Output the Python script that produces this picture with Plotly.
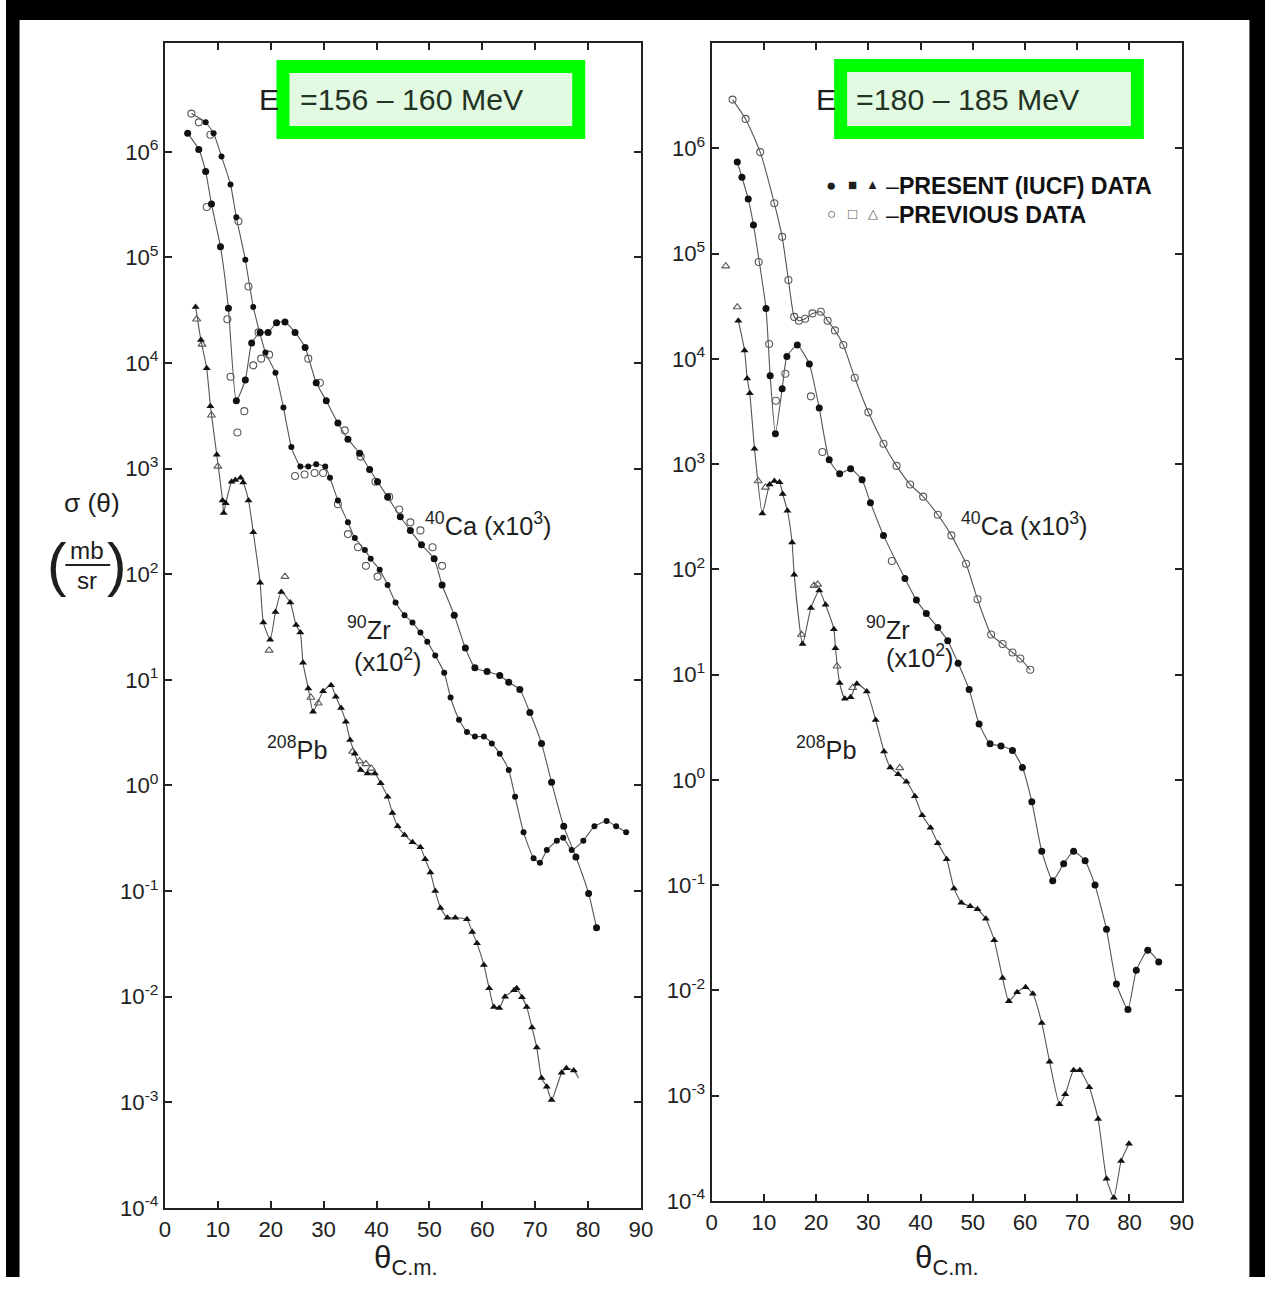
import plotly.graph_objects as go

W, H = 1277, 1290

# ---------------- LEFT PANEL: Ep = 156-160 MeV ----------------
# 40Ca (x10^3)
ca_l_x = [4.3, 6.4, 7.7, 8.8, 10.5, 12.0, 13.5, 15.2, 16.4, 18.0, 19.5, 21.1, 22.7, 24.6, 26.5,
          28.6, 30.5, 32.7, 34.6, 36.8, 38.7, 40.2, 42.1, 44.5, 46.4, 48.5, 50.9, 52.4, 54.7,
          56.8, 58.6, 60.9, 63.3, 65.0, 67.1, 69.0, 71.2, 73.1, 75.4, 77.7, 80.1, 81.6]
ca_l_y = [1.5e6, 1.05e6, 6.5e5, 3.2e5, 1.26e5, 3.3e4, 4.4e3, 6.9e3, 1.55e4, 1.95e4, 1.95e4, 2.4e4,
          2.45e4, 1.95e4, 1.4e4, 6.5e3, 4.4e3, 2.7e3, 1.9e3, 1.4e3, 9.8e2, 7.5e2, 5.4e2, 3.5e2,
          2.6e2, 1.9e2, 1.4e2, 79, 41, 20, 13, 12, 11, 9.5, 8.1, 4.9, 2.5, 1.07, 0.41, 0.21,
          0.095, 0.045]
ca_l_prev_x = [7.9, 11.8, 12.4, 13.7, 15.0, 16.7, 18.2, 19.7, 27.1, 29.3, 34.0, 37.0, 39.8,
               42.4, 44.3, 46.4, 48.3, 50.6, 52.4]
ca_l_prev_y = [3.0e5, 2.6e4, 7.4e3, 2.2e3, 3.5e3, 9.5e3, 1.1e4, 1.2e4, 1.1e4, 6.5e3, 2.3e3,
               1.3e3, 7.5e2, 5.4e2, 4.1e2, 3.1e2, 2.6e2, 1.8e2, 1.2e2]

# 90Zr (x10^2)
zr_l_x = [5.0, 7.7, 9.2, 10.7, 12.4, 13.5, 15.2, 16.7, 19.0, 20.9, 22.4, 23.9, 25.6, 27.1, 28.6,
          30.3, 31.2, 32.7, 34.6, 35.9, 37.8, 38.9, 40.6, 42.1, 43.6, 45.3, 46.8, 48.3, 49.6,
          51.1, 52.8, 54.0, 55.6, 57.1, 58.6, 60.3, 61.8, 63.3, 65.0, 66.2, 67.8, 69.7, 70.9,
          72.2, 74.1, 75.3, 76.9, 79.1, 81.2, 83.5, 85.3, 87.2]
zr_l_y = [2.3e6, 1.9e6, 1.5e6, 9.0e5, 4.9e5, 2.4e5, 9.5e4, 3.4e4, 1.26e4, 8.1e3, 3.8e3, 1.6e3,
          1.05e3, 1.05e3, 1.1e3, 1.05e3, 8.2e2, 5.0e2, 3.1e2, 2.2e2, 1.7e2, 1.4e2, 1.1e2, 79,
          54, 41, 35, 28, 23, 17, 11.7, 6.8, 4.2, 3.2, 2.9, 2.9, 2.5, 2.0, 1.4, 0.78, 0.36,
          0.205, 0.185, 0.245, 0.30, 0.32, 0.245, 0.30, 0.41, 0.46, 0.41, 0.36]
zr_l_prev_x = [5.0, 6.4, 8.6, 13.9, 15.8, 17.7, 24.6, 26.4, 28.3, 29.9, 32.7, 34.6, 36.5, 38.0, 40.2]
zr_l_prev_y = [2.3e6, 1.9e6, 1.45e6, 2.2e5, 5.3e4, 1.95e4, 8.5e2, 8.8e2, 9.1e2, 9.1e2, 4.6e2,
               2.4e2, 1.8e2, 1.2e2, 95]

# 208Pb
pb_l_x = [5.8, 6.8, 7.9, 8.6, 9.8, 10.9, 11.1, 11.5, 12.6, 13.3, 14.3, 14.8, 15.8, 16.7, 18.0,
          18.6, 19.9, 20.9, 22.0, 23.7, 24.8, 25.6, 26.1, 27.1, 28.0, 29.9, 31.4, 32.3, 33.3,
          34.2, 35.0, 35.9, 37.0, 38.3, 39.7, 40.8, 42.1, 43.0, 44.0, 45.3, 46.8, 48.3, 49.2,
          50.2, 51.1, 52.1, 53.4, 54.9, 57.1, 58.1, 59.0, 60.3, 61.3, 62.2, 63.2, 64.3, 66.0,
          66.5, 67.5, 68.4, 69.4, 70.3, 71.2, 72.2, 73.1, 75.0, 75.9, 77.3, 78.2]
pb_l_y = [3.4e4, 1.65e4, 8.9e3, 3.9e3, 1.35e3, 5.0e2, 3.8e2, 4.7e2, 7.5e2, 7.8e2, 8.2e2, 7.4e2,
          5.0e2, 2.5e2, 83, 35, 24, 44, 68, 54, 33, 28, 14.5, 8.3, 5.0, 7.8, 8.9, 6.9, 5.4, 4.0,
          2.7, 2.0, 1.4, 1.3, 1.3, 1.05, 0.78, 0.55, 0.41, 0.34, 0.29, 0.26, 0.20, 0.15, 0.10,
          0.069, 0.056, 0.056, 0.054, 0.041, 0.032, 0.020, 0.012, 0.0080, 0.0078, 0.0100,
          0.0115, 0.012, 0.0099, 0.0080, 0.0051, 0.0033, 0.0017, 0.0014, 0.00105, 0.0019,
          0.0021, 0.0020, 0.0017]
pb_l_prev_x = [6.0, 7.0, 8.8, 10.0, 19.7, 22.7, 27.6, 29.0, 35.5, 36.8, 38.0, 39.0]
pb_l_prev_y = [2.6e4, 1.5e4, 3.2e3, 1.05e3, 19, 95, 6.8, 6.0, 2.1, 1.7, 1.6, 1.45]

# ---------------- RIGHT PANEL: Ep = 180-185 MeV ----------------
ca_r_prev_x = [4.0, 6.5, 9.3, 12.0, 13.5, 14.7, 15.8, 16.7, 17.9, 19.3, 20.9, 22.2, 23.6, 25.2,
               27.4, 30.0, 32.9, 35.4, 38.0, 40.5, 43.3, 45.9, 48.7, 50.9, 53.5, 55.7, 57.6,
               59.1, 61.0]
ca_r_prev_y = [2.9e6, 1.9e6, 9.2e5, 3.0e5, 1.44e5, 5.6e4, 2.5e4, 2.3e4, 2.4e4, 2.7e4, 2.8e4,
               2.3e4, 1.86e4, 1.35e4, 6.6e3, 3.1e3, 1.56e3, 9.6e2, 6.4e2, 4.9e2, 3.3e2, 2.1e2,
               1.13e2, 52, 24, 19.5, 16.2, 14.2, 11.1]

zr_r_x = [4.9, 5.8, 7.0, 8.0, 10.4, 11.2, 12.2, 13.5, 14.4, 16.4, 18.7, 20.6, 22.5, 24.5, 26.6,
          28.8, 30.4, 32.9, 37.0, 39.2, 41.1, 43.3, 45.2, 47.2, 49.3, 51.2, 53.3, 55.4, 57.6,
          59.5, 61.3, 63.2, 65.3, 67.4, 69.3, 71.5, 73.4, 75.6, 77.5, 79.7, 81.3, 83.5, 85.6]
zr_r_y = [7.4e5, 5.3e5, 3.3e5, 1.87e5, 3.0e4, 6.9e3, 1.94e3, 5.2e3, 1.05e4, 1.35e4, 8.9e3,
          3.4e3, 1.1e3, 8.1e2, 9.0e2, 7.1e2, 4.3e2, 2.1e2, 82, 51, 38, 28, 21, 12.8, 7.2, 3.4,
          2.2, 2.1, 1.9, 1.31, 0.62, 0.21, 0.11, 0.16, 0.21, 0.17, 0.10, 0.038, 0.0115, 0.0066,
          0.0155, 0.024, 0.0186]
zr_r_prev_x = [9.0, 11.0, 12.3, 14.1, 19.0, 21.2, 34.5]
zr_r_prev_y = [8.3e4, 1.38e4, 4.0e3, 7.2e3, 4.4e3, 1.3e3, 1.2e2]

pb_r_x = [5.1, 6.3, 6.8, 7.3, 8.2, 9.7, 11.1, 12.0, 13.0, 13.6, 14.5, 15.4, 15.8, 17.4, 19.0,
          20.6, 21.8, 23.4, 23.7, 24.5, 25.5, 26.6, 27.8, 29.7, 31.4, 33.0, 34.2, 35.7, 37.3,
          38.9, 40.3, 41.9, 43.3, 45.0, 46.4, 47.8, 49.5, 50.9, 52.5, 54.1, 55.7, 56.9, 58.5,
          60.1, 61.5, 63.2, 64.7, 66.6, 67.7, 69.3, 70.5, 72.3, 74.0, 75.6, 77.0, 78.4, 79.9]
pb_r_y = [2.3e4, 1.2e4, 6.5e3, 4.7e3, 1.4e3, 3.4e2, 6.4e2, 6.9e2, 6.7e2, 5.2e2, 3.6e2, 1.8e2,
          89, 19.5, 43, 63, 46, 27, 17.8, 8.3, 5.9, 6.1, 8.2, 6.9, 3.7, 1.86, 1.31, 1.13, 0.96,
          0.70, 0.46, 0.35, 0.25, 0.176, 0.093, 0.068, 0.063, 0.059, 0.048, 0.030, 0.0131,
          0.0079, 0.0096, 0.0107, 0.0093, 0.0049, 0.0021, 0.00083, 0.00103, 0.00174, 0.00174,
          0.0012, 0.0006, 0.000162, 0.000107, 0.00024, 0.00035]
pb_r_prev_x = [2.7, 4.9, 8.9, 10.3, 17.2, 19.6, 20.3, 24.0, 27.0, 36.0]
pb_r_prev_y = [7.6e4, 3.1e4, 6.9e2, 6.0e2, 24, 70, 72, 12, 7.5, 1.3]

x_ticks = [0, 10, 20, 30, 40, 50, 60, 70, 80, 90]
y_ticks = [1e-4, 1e-3, 1e-2, 1e-1, 1e0, 1e1, 1e2, 1e3, 1e4, 1e5, 1e6]
y_tick_text = ["10<sup>-4</sup>", "10<sup>-3</sup>", "10<sup>-2</sup>", "10<sup>-1</sup>",
               "10<sup>0</sup>", "10<sup>1</sup>", "10<sup>2</sup>", "10<sup>3</sup>",
               "10<sup>4</sup>", "10<sup>5</sup>", "10<sup>6</sup>"]

FONT = "Liberation Sans, Arial, sans-serif"
LINE_C = "#555555"
INK = "#111111"

# the captured page is shown slightly reduced (about 0.99, centred horizontally);
# layout positions below are given in picture pixels and mapped back here
SC, OFFX, OFFY = 0.99, 6.4, 0.0


def fx(q):
    return ((q - OFFX) / SC) / W


def fy(q):
    return 1 - ((q - OFFY) / SC) / H


def fs(s):
    return round(s / SC, 1)


fig = go.Figure()


def add_line(x, y, xa, ya):
    fig.add_trace(go.Scatter(x=x, y=y, xaxis=xa, yaxis=ya, mode="lines",
                             line=dict(color=LINE_C, width=1.1, shape="spline", smoothing=0.5),
                             hoverinfo="skip", showlegend=False))


def add_pts(x, y, xa, ya, symbol, filled, size=7):
    if filled:
        m = dict(symbol=symbol, size=size, color=INK, line=dict(width=0))
    else:
        m = dict(symbol=symbol + "-open", size=size, color="#5a5a5a", line=dict(width=1.1))
    fig.add_trace(go.Scatter(x=x, y=y, xaxis=xa, yaxis=ya, mode="markers", marker=m,
                             showlegend=False))


# left panel
add_line(ca_l_x, ca_l_y, "x", "y")
add_line(zr_l_x, zr_l_y, "x", "y")
add_line(pb_l_x, pb_l_y, "x", "y")
add_pts(ca_l_prev_x, ca_l_prev_y, "x", "y", "circle", False)
add_pts(zr_l_prev_x, zr_l_prev_y, "x", "y", "circle", False)
add_pts(pb_l_prev_x, pb_l_prev_y, "x", "y", "triangle-up", False)
add_pts(ca_l_x, ca_l_y, "x", "y", "circle", True)
add_pts(zr_l_x[1:], zr_l_y[1:], "x", "y", "circle", True, 6)
add_pts(pb_l_x[:-1], pb_l_y[:-1], "x", "y", "triangle-up", True, 7)

# right panel
add_line(ca_r_prev_x, ca_r_prev_y, "x2", "y2")
add_line(zr_r_x, zr_r_y, "x2", "y2")
add_line(pb_r_x, pb_r_y, "x2", "y2")
add_pts(ca_r_prev_x, ca_r_prev_y, "x2", "y2", "circle", False)
add_pts(zr_r_prev_x, zr_r_prev_y, "x2", "y2", "circle", False)
add_pts(pb_r_prev_x, pb_r_prev_y, "x2", "y2", "triangle-up", False)
add_pts(zr_r_x, zr_r_y, "x2", "y2", "circle", True, 7)
add_pts(pb_r_x, pb_r_y, "x2", "y2", "triangle-up", True, 7)

axis_common = dict(showline=True, linecolor="#222", linewidth=2, mirror="allticks",
                   ticks="inside", ticklen=7, tickwidth=1.5, tickcolor="#222",
                   showgrid=False, zeroline=False,
                   tickfont=dict(family=FONT, size=fs(22), color="#222"))

fig.update_layout(
    width=W, height=H,
    margin=dict(l=0, r=0, t=0, b=0),
    paper_bgcolor="white", plot_bgcolor="white",
    showlegend=False,
    xaxis=dict(domain=[fx(166), fx(644)], range=[0, 90], tickvals=x_ticks, anchor="y",
               **axis_common),
    yaxis=dict(domain=[fy(1208), fy(43)], type="log", range=[-4, 7.03], tickvals=y_ticks,
               ticktext=y_tick_text, anchor="x", **axis_common),
    xaxis2=dict(domain=[fx(715), fx(1187)], range=[0, 90], tickvals=x_ticks, anchor="y2",
                **axis_common),
    yaxis2=dict(domain=[fy(1201), fy(43)], type="log", range=[-4, 7.0], tickvals=y_ticks,
                ticktext=y_tick_text, anchor="x2", **axis_common),
)

shapes = [
    # black scan borders
    dict(type="rect", xref="paper", yref="paper", x0=0, x1=1, y0=fy(20), y1=1,
         fillcolor="black", line=dict(width=0), layer="above"),
    dict(type="rect", xref="paper", yref="paper", x0=0, x1=max(fx(20), 0), y0=0, y1=1,
         fillcolor="black", line=dict(width=0), layer="above"),
    dict(type="rect", xref="paper", yref="paper", x0=fx(1255), x1=1, y0=0, y1=1,
         fillcolor="black", line=dict(width=0), layer="above"),
    # green highlight boxes
    dict(type="rect", xref="paper", yref="paper", x0=fx(284.5), x1=fx(581.5), y0=fy(132.5),
         y1=fy(66.5), fillcolor="#e2fae2", line=dict(color="#00ff00", width=13), layer="above"),
    dict(type="rect", xref="paper", yref="paper", x0=fx(844.5), x1=fx(1142.5), y0=fy(132.5),
         y1=fy(65.5), fillcolor="#e2fae2", line=dict(color="#00ff00", width=13), layer="above"),
    # fraction bar of mb/sr
    dict(type="line", xref="paper", yref="paper", x0=fx(66), x1=fx(111), y0=fy(565),
         y1=fy(565), line=dict(color="#222", width=2), layer="above"),
]
fig.update_layout(shapes=shapes)


def ann(text, x, y, size, xanchor="center", yanchor="middle", color="#1e1e1e", family=FONT):
    return dict(text=text, x=fx(x), y=fy(y), xref="paper", yref="paper", showarrow=False,
                xanchor=xanchor, yanchor=yanchor,
                font=dict(family=family, size=fs(size), color=color))


annotations = [
    # energy labels
    ann("E", 270, 100, 30),
    ann("=156 – 160 MeV", 300, 100, 30, xanchor="left", color="#243424"),
    ann("E", 830, 100, 30),
    ann("=180 – 185 MeV", 858, 100, 30, xanchor="left", color="#243424"),
    # legend
    ann("●", 835, 185, 17), ann("■", 856, 185, 15), ann("▲", 877, 185, 13),
    ann("–<b>PRESENT (IUCF) DATA</b>", 888, 186, 23, xanchor="left", color="#111"),
    ann("○", 835, 214, 15, color="#555"), ann("□", 856, 214, 15, color="#555"),
    ann("△", 877, 214, 13, color="#555"),
    ann("–<b>PREVIOUS DATA</b>", 888, 215, 23, xanchor="left", color="#111"),
    # curve labels, left
    ann("<sup>40</sup>Ca (x10<sup>3</sup>)", 425, 524, 25, xanchor="left"),
    ann("<sup>90</sup>Zr", 347, 628, 25, xanchor="left"),
    ann("(x10<sup>2</sup>)", 354, 660, 25, xanchor="left"),
    ann("<sup>208</sup>Pb", 266, 748, 25, xanchor="left"),
    # curve labels, right
    ann("<sup>40</sup>Ca (x10<sup>3</sup>)", 963, 524, 25, xanchor="left"),
    ann("<sup>90</sup>Zr", 868, 628, 25, xanchor="left"),
    ann("(x10<sup>2</sup>)", 888, 656, 25, xanchor="left"),
    ann("<sup>208</sup>Pb", 798, 748, 25, xanchor="left"),
    # axis titles
    ann("θ<sub>C.m.</sub>", 408, 1260, 31),
    ann("θ<sub>C.m.</sub>", 951, 1260, 31),
    ann("σ (θ)", 93, 503, 26),
    ann("mb", 88, 551, 24),
    ann("sr", 88, 581, 24),
    ann("(", 58, 565, 58),
    ann(")", 118, 565, 58),
]
fig.update_layout(annotations=annotations)

fig.write_html(
    "out.html",
    post_script="document.body.style.margin='0px';document.body.style.overflow='hidden';",
)
